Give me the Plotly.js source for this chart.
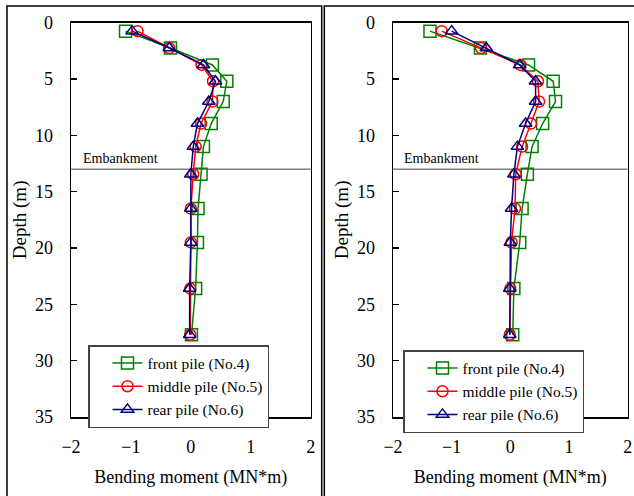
<!DOCTYPE html>
<html>
<head>
<meta charset="utf-8">
<script src="https://cdn.plot.ly/plotly-3.0.1.min.js"></script>
<style>html,body{margin:0;padding:0;background:#fff;}#chart{width:634px;height:496px;}</style>
</head>
<body>
<div id="chart"></div>
<script>
// ---- data ----
const depth = [0.75, 2.25, 3.75, 5.2, 7.0, 8.95, 11.0, 13.45, 16.5, 19.5, 23.6, 27.7];
const seriesNames = ["front pile (No.4)", "middle pile (No.5)", "rear pile (No.6)"];
const leftFront  = [-1.09, -0.34, 0.36, 0.60, 0.54, 0.34, 0.21, 0.17, 0.12, 0.11, 0.08, 0.01];
const leftMiddle = [-0.89, -0.36, 0.18, 0.37, 0.36, 0.17, 0.08, 0.04, 0.00, 0.00, -0.01, -0.01];
const leftRear   = [-0.98, -0.36, 0.21, 0.41, 0.30, 0.11, 0.04, 0.00, 0.00, 0.00, -0.02, -0.02];
const rightFront  = [-1.37, -0.51, 0.31, 0.73, 0.77, 0.55, 0.37, 0.29, 0.20, 0.16, 0.06, 0.04];
const rightMiddle = [-1.17, -0.50, 0.17, 0.47, 0.49, 0.35, 0.20, 0.09, 0.08, 0.02, 0.00, -0.01];
const rightRear   = [-1.00, -0.41, 0.16, 0.43, 0.43, 0.26, 0.12, 0.06, 0.02, 0.00, -0.01, -0.01];
const embankmentDepth = 13;
const embankmentLabel = "Embankment";
const xTitle = "Bending moment (MN*m)";
const yTitle = "Depth (m)";

// ---- styles ----
const W = 634, H = 496;
const FONT = "Liberation Serif";
const colors = ["#008000", "#ff0000", "#000080"];
const symbols = ["square-open", "circle-open", "triangle-up-open"];
const sizes = [12, 11, 11];

function mk(xs, i, xa, ya, leg) {
  return {
    x: xs, y: depth, xaxis: xa, yaxis: ya, name: seriesNames[i],
    type: "scatter", mode: "lines+markers", legend: leg,
    line: {color: colors[i], width: 1.5},
    marker: {symbol: symbols[i], size: sizes[i], color: colors[i], line: {width: 1.5, color: colors[i]}}
  };
}
const traces = [
  mk(leftFront, 0, "x", "y", "legend"),
  mk(leftMiddle, 1, "x", "y", "legend"),
  mk(leftRear, 2, "x", "y", "legend"),
  mk(rightFront, 0, "x2", "y2", "legend2"),
  mk(rightMiddle, 1, "x2", "y2", "legend2"),
  mk(rightRear, 2, "x2", "y2", "legend2")
];

const yTop = 1 - 22.7 / H, yBot = 1 - 417 / H;
function xaxis(l, r, anchor) {
  return {
    domain: [l / W, r / W], anchor: anchor, range: [-2, 2], dtick: 1, tick0: 0,
    showline: true, mirror: true, linecolor: "#000", linewidth: 1.5,
    ticks: "inside", ticklen: 6, tickwidth: 1.2, tickcolor: "#000",
    showgrid: false, zeroline: false, ticklabelstandoff: 13,
    tickfont: {family: FONT, size: 18, color: "#000"},
    title: {text: xTitle, font: {family: FONT, size: 18, color: "#000"}, standoff: 14}
  };
}
function yaxis(anchor) {
  return {
    domain: [yBot, yTop], anchor: anchor, range: [35, 0], dtick: 5, tick0: 0,
    showline: true, mirror: true, linecolor: "#000", linewidth: 1.5,
    ticks: "inside", ticklen: 6, tickwidth: 1.2, tickcolor: "#000",
    showgrid: false, zeroline: false, ticklabelstandoff: 13,
    tickfont: {family: FONT, size: 18, color: "#000"},
    title: {text: yTitle, font: {family: FONT, size: 19, color: "#000"}, standoff: 3}
  };
}
const legendBase = {
  font: {family: FONT, size: 15.5, color: "#000"},
  bgcolor: "#fff", bordercolor: "#444", borderwidth: 1.5,
  xanchor: "left", yanchor: "top", tracegroupgap: 0, indentation: 18
};

const layout = {
  width: W, height: H,
  margin: {l: 0, r: 0, t: 0, b: 0},
  paper_bgcolor: "#fff", plot_bgcolor: "#fff",
  font: {family: FONT, color: "#000"},
  xaxis: xaxis(71, 310.7, "y"),
  yaxis: yaxis("x"),
  xaxis2: xaxis(393, 627.7, "y2"),
  yaxis2: yaxis("x2"),
  legend: Object.assign({x: 88 / W, y: 1 - 345 / H}, legendBase),
  legend2: Object.assign({x: 403 / W, y: 1 - 350 / H}, legendBase),
  shapes: [
    {type: "line", xref: "x domain", yref: "y", x0: 0, x1: 1, y0: embankmentDepth, y1: embankmentDepth,
     line: {color: "#808080", width: 1.5}, layer: "below"},
    {type: "line", xref: "x2 domain", yref: "y2", x0: 0, x1: 1, y0: embankmentDepth, y1: embankmentDepth,
     line: {color: "#808080", width: 1.5}, layer: "below"},
    {type: "rect", xref: "paper", yref: "paper", x0: 7 / W, x1: 321.7 / W, y0: -0.05, y1: 1 - 6 / H,
     line: {color: "#000", width: 1.5}},
    {type: "rect", xref: "paper", yref: "paper", x0: 324.3 / W, x1: 1.05, y0: -0.05, y1: 1 - 6 / H,
     line: {color: "#000", width: 1.5}}
  ],
  annotations: [
    {text: embankmentLabel, xref: "x domain", yref: "y", x: 0.04, y: embankmentDepth, xanchor: "left", yanchor: "bottom",
     showarrow: false, yshift: 1, font: {family: FONT, size: 14, color: "#000"}},
    {text: embankmentLabel, xref: "x2 domain", yref: "y2", x: 0.04, y: embankmentDepth, xanchor: "left", yanchor: "bottom",
     showarrow: false, yshift: 1, font: {family: FONT, size: 14, color: "#000"}}
  ]
};

Plotly.newPlot("chart", traces, layout, {displayModeBar: false, staticPlot: true});
</script>
</body>
</html>
